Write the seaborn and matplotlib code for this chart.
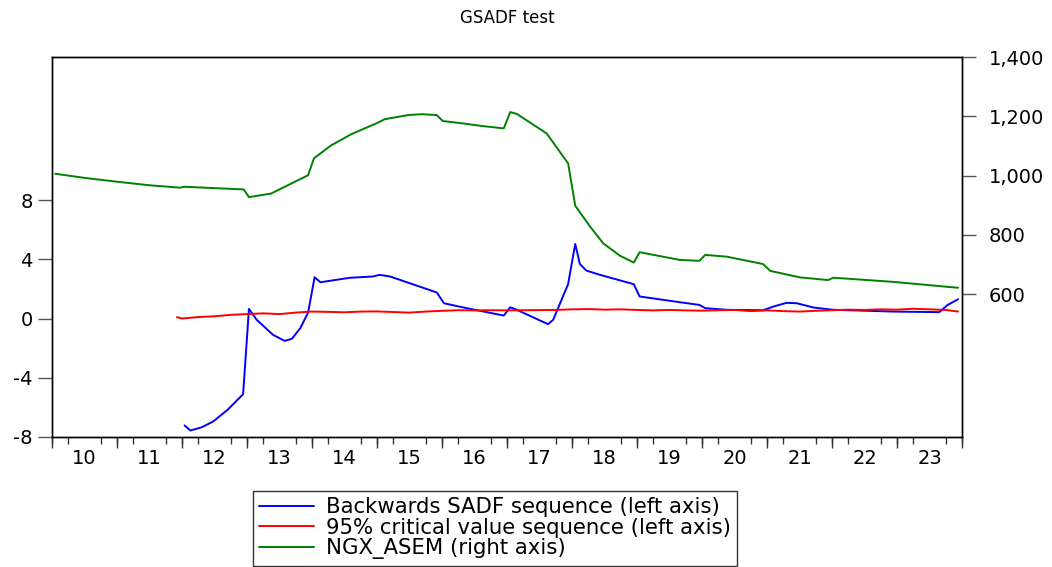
import numpy as np
import pandas as pd
import seaborn as sns
import matplotlib.pyplot as plt
from matplotlib.ticker import FixedLocator, FuncFormatter

sns.set_style("ticks")
plt.rcParams['font.family'] = ['DejaVu Sans']
plt.rcParams['text.color'] = 'black'
plt.rcParams['xtick.labelcolor'] = 'black'
plt.rcParams['ytick.labelcolor'] = 'black'

# Backwards SADF sequence (left axis)
sadf_t = [2012.04, 2012.13, 2012.3, 2012.48, 2012.7, 2012.94,
          2013.03, 2013.15, 2013.4, 2013.58, 2013.69, 2013.82, 2013.94,
          2014.04, 2014.13, 2014.58, 2014.94,
          2015.04, 2015.2, 2015.92,
          2016.03, 2016.38, 2016.95,
          2017.05, 2017.15, 2017.63, 2017.71, 2017.94,
          2018.05, 2018.12, 2018.22, 2018.43, 2018.95,
          2019.04, 2019.66, 2019.96,
          2020.05, 2020.38, 2020.94,
          2021.1, 2021.3, 2021.46, 2021.72,
          2022.02, 2022.94,
          2023.65, 2023.78, 2023.94]
sadf_v = [-7.22, -7.56, -7.35, -6.95, -6.17, -5.11,
          0.65, -0.09, -1.1, -1.51, -1.37, -0.65, 0.4,
          2.79, 2.45, 2.75, 2.84,
          2.95, 2.84, 1.76,
          1.03, 0.7, 0.2,
          0.76, 0.59, -0.38, -0.09, 2.32,
          5.04, 3.69, 3.24, 2.95, 2.32,
          1.49, 1.1, 0.92,
          0.7, 0.59, 0.56,
          0.81, 1.06, 1.03, 0.74,
          0.59, 0.47,
          0.43, 0.92, 1.3]

# 95% critical value sequence (left axis), quarterly
cv_t = [2011.92] + list(np.arange(2012, 2024, 0.25)) + [2023.94]
cv_v = [0.09,
        0.0, 0.1, 0.15, 0.25,
        0.3, 0.35, 0.3, 0.4,
        0.47, 0.45, 0.42, 0.47,
        0.48, 0.44, 0.4, 0.47,
        0.52, 0.56, 0.55, 0.56,
        0.55, 0.56, 0.57, 0.58,
        0.62, 0.64, 0.6, 0.62,
        0.58, 0.55, 0.58, 0.55,
        0.53, 0.56, 0.58, 0.5,
        0.55, 0.5, 0.47, 0.52,
        0.56, 0.6, 0.58, 0.62,
        0.6, 0.66, 0.62, 0.58,
        0.47]

# NGX_ASEM (right axis)
ngx_t = [2010.05, 2010.5, 2011.0, 2011.5, 2011.97,
         2012.03, 2012.95,
         2013.03, 2013.37, 2013.71, 2013.94,
         2014.03, 2014.29, 2014.6, 2014.99,
         2015.12, 2015.48, 2015.69, 2015.92,
         2016.01, 2016.35, 2016.58, 2016.95,
         2017.05, 2017.15, 2017.61, 2017.94,
         2018.05, 2018.28, 2018.48, 2018.74, 2018.95,
         2019.04, 2019.66, 2019.96,
         2020.05, 2020.38, 2020.94,
         2021.05, 2021.51, 2021.94,
         2022.02, 2022.94,
         2023.94]
ngx_v = [1006, 992, 979, 967, 959,
         962, 953,
         927, 939, 976, 1001,
         1058, 1101, 1139, 1176,
         1190, 1204, 1207, 1204,
         1184, 1175, 1168, 1159,
         1214, 1208, 1142, 1041,
         898, 827, 771, 729, 706,
         741, 715, 712,
         732, 726, 701,
         678, 656, 647,
         655, 641,
         621]

years = list(range(2010, 2024))
year_labels = [str(y)[2:] for y in years]
left_ticks = [-8, -4, 0, 4, 8]
right_ticks = [600, 800, 1000, 1200, 1400]

df_sadf = pd.DataFrame({'t': sadf_t, 'v': sadf_v})
df_cv = pd.DataFrame({'t': cv_t, 'v': cv_v})
df_ngx = pd.DataFrame({'t': ngx_t, 'v': ngx_v})

fig = plt.figure(figsize=(10.52, 5.67), dpi=100)
ax = fig.add_axes([52/1052, 1-437/567, 910/1052, 380/567])
ax2 = ax.twinx()

sns.lineplot(data=df_sadf, x='t', y='v', ax=ax, color='#0000FF', lw=1.4,
             label='Backwards SADF sequence (left axis)')
sns.lineplot(data=df_cv, x='t', y='v', ax=ax, color='#FF0000', lw=1.4,
             label='95% critical value sequence (left axis)')
sns.lineplot(data=df_ngx, x='t', y='v', ax=ax2, color='#008000', lw=1.4,
             label='NGX_ASEM (right axis)')

for a in (ax, ax2):
    if a.get_legend() is not None:
        a.get_legend().remove()
    a.set_xlabel('')
    a.set_ylabel('')
    for s in a.spines.values():
        s.set_color('black')
        s.set_linewidth(1.0)

ax.set_xlim(2010, 2024)
ax.set_ylim(-8, 17.66)
ax2.set_ylim(117.3, 1400)

# year labels centred in each year, quarter ticks underneath
ax.xaxis.set_major_locator(FixedLocator([y + 0.5 for y in years]))
ax.set_xticklabels(year_labels)
ax.xaxis.set_minor_locator(FixedLocator(list(np.arange(2010, 2024.01, 0.25))))
ax.tick_params(axis='x', which='major', length=0, pad=9, labelsize=14, labelcolor='black')
ax.tick_params(axis='x', which='minor', length=5, width=1, color='#333333')
sec = ax.secondary_xaxis('bottom')
sec.set_xticks(years + [2024])
sec.set_xticklabels([])
sec.tick_params(length=8, width=1, color='#333333')
sec.spines['bottom'].set_visible(False)

ax.set_yticks(left_ticks)
ax.set_yticklabels([str(v) for v in left_ticks])
ax.tick_params(axis='y', length=10, width=1, color='#555555', pad=4, labelsize=14,
               labelcolor='black')

ax2.set_yticks(right_ticks)
ax2.yaxis.set_major_formatter(FuncFormatter(lambda v, p: f'{int(v):,}'))
ax2.tick_params(axis='y', length=10, width=1, color='#555555', pad=9, labelsize=14,
                labelcolor='black')

fig.suptitle('GSADF test', x=507/1052, y=1-9/567, va='top', fontsize=12, color='black')

handles = ax.get_lines()[:2] + ax2.get_lines()[:1]
labels = ['Backwards SADF sequence (left axis)',
          '95% critical value sequence (left axis)',
          'NGX_ASEM (right axis)']
leg = fig.legend(handles, labels, loc='upper center', bbox_to_anchor=(495/1052, 1-491/567),
                 frameon=True, fancybox=False, fontsize=15.3, handlelength=2.6,
                 labelspacing=0.02, borderpad=0.3, handletextpad=0.55, borderaxespad=0,
                 labelcolor='black')
leg.get_frame().set_edgecolor('black')
leg.get_frame().set_linewidth(1.0)

fig.savefig('out.png', dpi=100)
